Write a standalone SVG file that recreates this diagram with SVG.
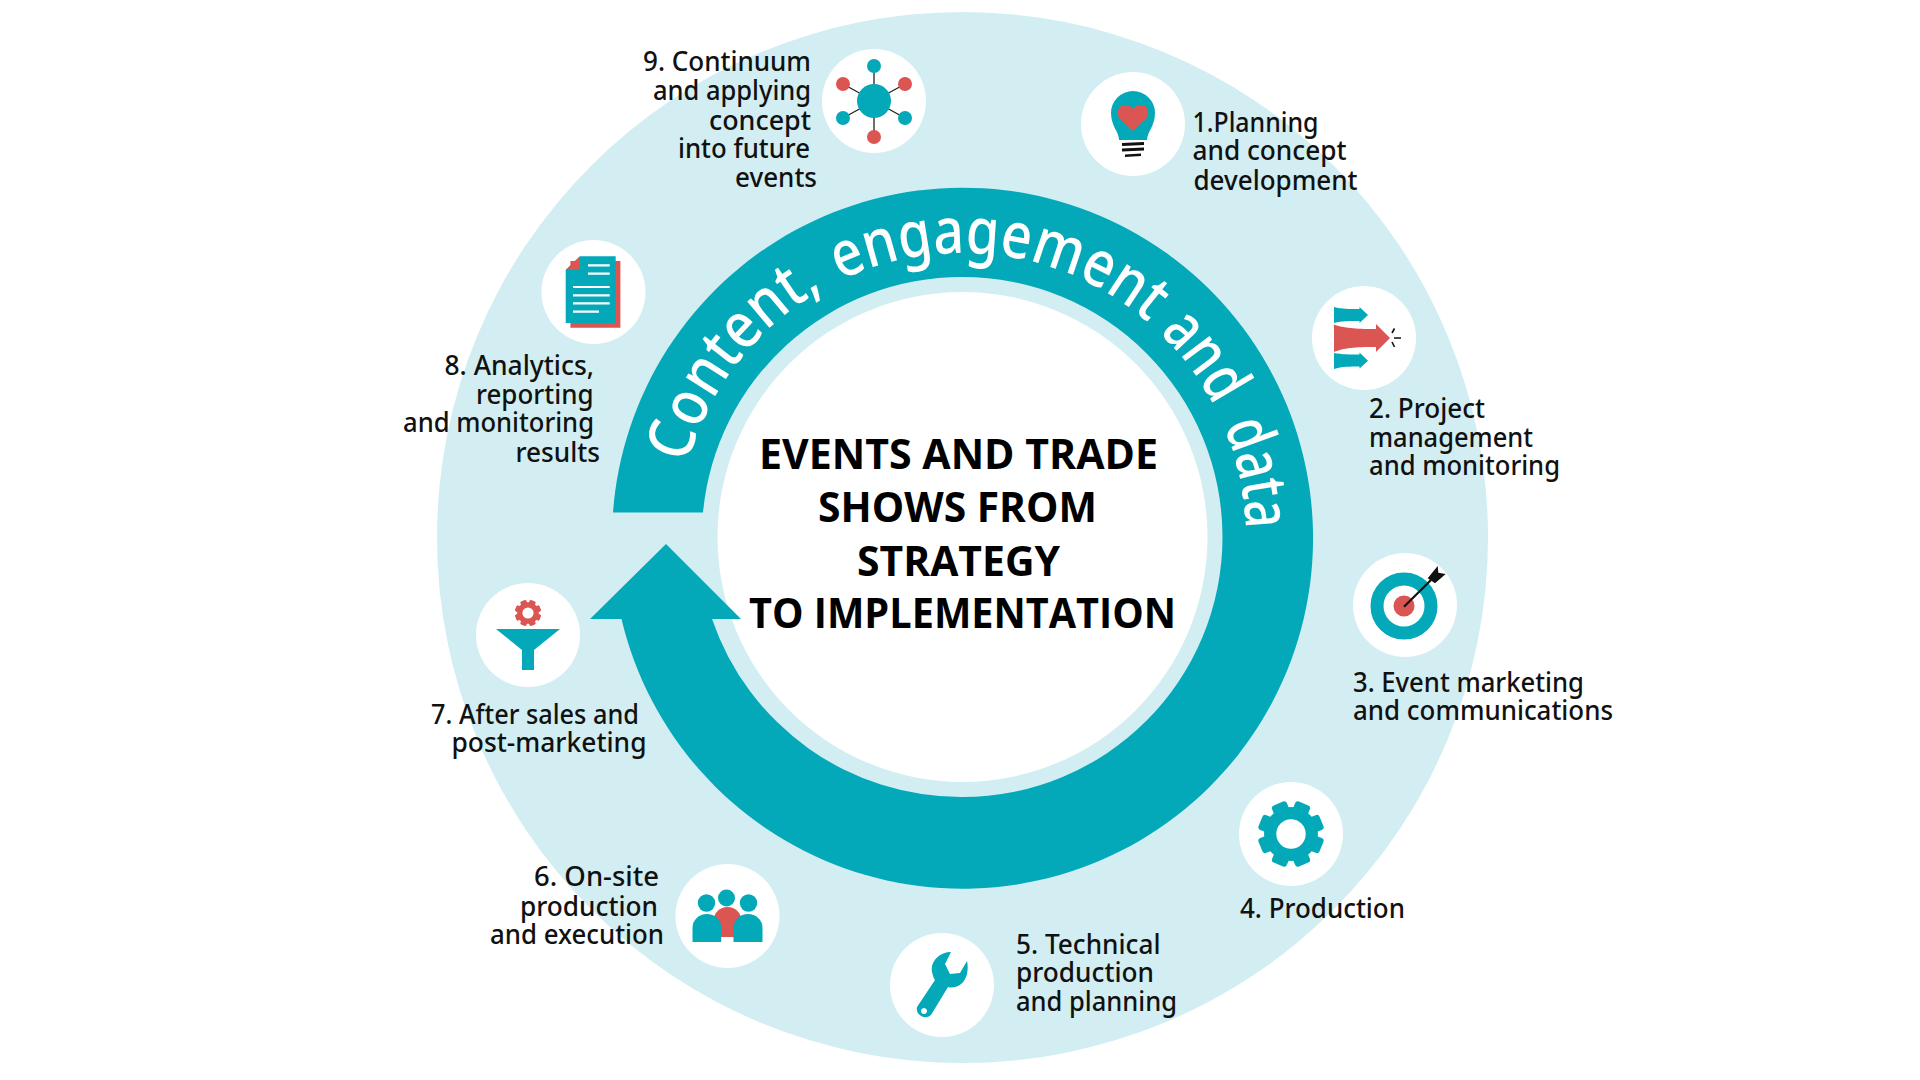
<svg xmlns="http://www.w3.org/2000/svg" xmlns:xlink="http://www.w3.org/1999/xlink" width="1920" height="1080" viewBox="0 0 1920 1080">
<style>
.t{fill:#03a9b8}.r{fill:#db5552}.k{fill:#111}.w{fill:#fff}
.lbl{font-family:"Noto Sans","Liberation Sans",sans-serif;font-weight:500;font-size:27px;fill:#111}
.ttl{font-family:"Open Sans","Noto Sans",sans-serif;font-weight:700;font-size:41px;fill:#000}
.arc{font-family:"Noto Sans","Liberation Sans",sans-serif;font-weight:500;font-size:64px;fill:#fff}
.ln{stroke:#222;stroke-width:1.3;fill:none}
.wl{stroke:#fff;stroke-width:2.2;fill:none}
</style>
<defs>
<path id="arcPath" d="M678,537 A284,284 0 1 1 1246,537"/>
<g id="tooth"><rect x="-8" y="-33" width="16" height="11" rx="3"/></g>
</defs>
<rect width="1920" height="1080" fill="#fff"/>
<circle id="band" cx="962.5" cy="537.5" r="525.5" fill="#d2eef2"/>
<circle id="centre-disc" cx="962.5" cy="537" r="245" fill="#fff"/>
<g id="connectors">
<path class="t" d="M613,512.500 A350.500,350.500 0 1 1 621.500,619 L590,619 L666,544 L741,619 L712,619 A263,263 0 0 0 962.500,797 A260,260 0 0 0 1222.500,537 A260,260 0 0 0 962.500,277 A260,260 0 0 0 703,512.500 Z"/>
</g>
<text class="arc"><textPath href="#arcPath" startOffset="74" textLength="227" lengthAdjust="spacingAndGlyphs">Content,</textPath><textPath href="#arcPath" startOffset="320" textLength="329" lengthAdjust="spacingAndGlyphs">engagement</textPath><textPath href="#arcPath" startOffset="664" textLength="92" lengthAdjust="spacingAndGlyphs">and</textPath><textPath href="#arcPath" startOffset="778" textLength="106" lengthAdjust="spacingAndGlyphs">data</textPath></text>
<g id="title" class="ttl">
<text x="759" y="469" textLength="399" lengthAdjust="spacingAndGlyphs">EVENTS AND TRADE</text>
<text x="818" y="522" textLength="279" lengthAdjust="spacingAndGlyphs">SHOWS FROM</text>
<text x="857" y="576" textLength="203" lengthAdjust="spacingAndGlyphs">STRATEGY</text>
<text x="749" y="628" textLength="427" lengthAdjust="spacingAndGlyphs">TO IMPLEMENTATION</text>
</g>
<g id="node-1">
<circle class="w" cx="1133" cy="124" r="52"/>
<g transform="translate(1133,124)">
<path class="t" d="M-14,16 C-14,8 -22,2 -22,-11 A22,22 0 0 1 22,-11 C22,2 14,8 14,16 Z"/>
<path class="r" d="M0,7 L-12,-4 C-18,-10 -15,-19 -8,-19 C-4,-19 -1,-17 0,-15 C1,-17 4,-19 8,-19 C15,-19 18,-10 12,-4 Z"/>
<path class="k" d="M-11,19 L11,18 V21 L-11,22 Z M-11,24.500 L11,23.500 V26.500 L-11,27.500 Z M-8,30.500 L8,29.500 V32 L-8,33 Z"/>
</g>
<g class="lbl"><text x="1192.500" y="132" textLength="126" lengthAdjust="spacingAndGlyphs">1.Planning</text><text x="1192.500" y="160.400" textLength="154" lengthAdjust="spacingAndGlyphs">and concept</text><text x="1193.500" y="189.500" textLength="164" lengthAdjust="spacingAndGlyphs">development</text></g>
</g>
<g id="node-2">
<circle class="w" cx="1364" cy="338" r="52"/>
<g transform="translate(1364,338)">
<path class="r" d="M-30,-13.500 C-20,-10 -10,-9 12,-9 L12,-14 L26,0 L12,14 L12,9 C-10,9 -20,10 -30,14 Z"/>
<path class="t" d="M-30,-31 C-22,-29 -15,-29 -4.500,-29 V-31 L4,-23 L-4.500,-15 V-17 C-15,-17 -22,-17 -30,-15 Z"/>
<path class="t" d="M-30,15 C-22,16.500 -15,16.500 -4.500,16.500 V14.500 L4,22.700 L-4.500,30.500 V28.500 C-15,28.500 -22,28.500 -30,31 Z"/>
<path stroke="#111" stroke-width="1.600" fill="none" d="M30.500,-9.500 L28,-5 M28,4 L30.500,9 M30,0 H37"/>
</g>
<g class="lbl"><text x="1369" y="417.600" textLength="116" lengthAdjust="spacingAndGlyphs">2. Project</text><text x="1369" y="447" textLength="164" lengthAdjust="spacingAndGlyphs">management</text><text x="1369" y="475" textLength="191" lengthAdjust="spacingAndGlyphs">and monitoring</text></g>
</g>
<g id="node-3">
<circle class="w" cx="1405" cy="605" r="52"/>
<g transform="translate(1405,605)">
<circle cx="-1" cy="1" r="27" fill="none" stroke="#03a9b8" stroke-width="13"/>
<circle class="r" cx="-1" cy="1" r="10.500"/>
<path stroke="#111" stroke-width="2.200" d="M-1,1.700 L26,-25"/>
<path class="k" d="M22.700,-26.700 L32.700,-39 L33.300,-32.300 L40.700,-31 L30,-21.700 Z"/>
</g>
<g class="lbl"><text x="1353" y="692" textLength="231" lengthAdjust="spacingAndGlyphs">3. Event marketing</text><text x="1353" y="720" textLength="260" lengthAdjust="spacingAndGlyphs">and communications</text></g>
</g>
<g id="node-4">
<circle class="w" cx="1291" cy="834" r="52"/>
<g transform="translate(1291,834)">
<circle class="t" r="27"/>
<g class="t"><use href="#tooth" transform="rotate(22.500)"/><use href="#tooth" transform="rotate(67.500)"/><use href="#tooth" transform="rotate(112.500)"/><use href="#tooth" transform="rotate(157.500)"/><use href="#tooth" transform="rotate(202.500)"/><use href="#tooth" transform="rotate(247.500)"/><use href="#tooth" transform="rotate(292.500)"/><use href="#tooth" transform="rotate(337.500)"/></g>
<circle class="w" r="14.700"/>
</g>
<g class="lbl"><text x="1240" y="918" textLength="165" lengthAdjust="spacingAndGlyphs">4. Production</text></g>
</g>
<g id="node-5">
<circle class="w" cx="942" cy="985" r="52"/>
<g transform="translate(942,985)">
<path class="t" fill-rule="evenodd" d="M9,-33 C-3,-33 -12,-23 -10,-13 C-9,-9 -8,-6 -7,-5 L-25,22 A8.500,8.500 0 0 0 -11,30 L6,2 C13,4 21,0 24,-8 C26,-13 26,-20 25,-24 L18,-12 L8,-11 L3,-21 Z M-18,23 a3,3 0 1 0 0.010,0 Z"/>
</g>
<g class="lbl"><text x="1016" y="954" textLength="144.500" lengthAdjust="spacingAndGlyphs">5. Technical</text><text x="1016" y="982" textLength="138" lengthAdjust="spacingAndGlyphs">production</text><text x="1016" y="1011" textLength="161" lengthAdjust="spacingAndGlyphs">and planning</text></g>
</g>
<g id="node-6">
<circle class="w" cx="727.500" cy="916" r="52"/>
<g transform="translate(727.500,916)">
<circle class="t" cx="-1" cy="-18" r="8.500"/><circle class="t" cx="-21" cy="-13" r="8.700"/><circle class="t" cx="21" cy="-13" r="8.700"/>
<path class="r" d="M-14,21 V5 A14,14 0 0 1 14,5 V21 Z"/>
<path class="t" d="M-35,26 V12 A14.350,14 0 0 1 -6.300,12 V26 Z"/>
<path class="t" d="M6,26 V12 A14.500,14 0 0 1 35,12 V26 Z"/>
</g>
<g class="lbl"><text x="534" y="886" textLength="125" lengthAdjust="spacingAndGlyphs">6. On-site</text><text x="520" y="916" textLength="138" lengthAdjust="spacingAndGlyphs">production</text><text x="490" y="944" textLength="174" lengthAdjust="spacingAndGlyphs">and execution</text></g>
</g>
<g id="node-7">
<circle class="w" cx="528" cy="635" r="52"/>
<g transform="translate(528,635)">
<g transform="translate(0,-22) scale(0.4)" class="r"><circle r="27"/><use href="#tooth" transform="rotate(22.500)"/><use href="#tooth" transform="rotate(67.500)"/><use href="#tooth" transform="rotate(112.500)"/><use href="#tooth" transform="rotate(157.500)"/><use href="#tooth" transform="rotate(202.500)"/><use href="#tooth" transform="rotate(247.500)"/><use href="#tooth" transform="rotate(292.500)"/><use href="#tooth" transform="rotate(337.500)"/><circle class="w" r="14"/></g>
<path class="t" d="M-32,-6 H32 L6,15 V35 H-6 V15 Z"/>
</g>
<g class="lbl"><text x="431" y="724" textLength="208" lengthAdjust="spacingAndGlyphs">7. After sales and</text><text x="451.500" y="752" textLength="195" lengthAdjust="spacingAndGlyphs">post-marketing</text></g>
</g>
<g id="node-8">
<circle class="w" cx="593.500" cy="292" r="52"/>
<g transform="translate(593,292)">
<path class="r" d="M-22.600,-31 H27.400 V35.700 H-22.600 Z"/>
<path class="t" d="M-13,-35.700 H22.700 V31 H-27.300 V-22 Z"/>
<path class="r" d="M-13,-35.700 V-22 H-27.300 Z"/>
<path class="wl" d="M-5,-26.700 H16.700 M-5,-18.300 H16.700 M-20,-5 H16.700 M-20,3.300 H16.700 M-20,11.300 H16.700 M-20,19.700 H6"/>
</g>
<g class="lbl"><text x="444.500" y="375" textLength="149.500" lengthAdjust="spacingAndGlyphs">8. Analytics,</text><text x="476" y="404" textLength="117.500" lengthAdjust="spacingAndGlyphs">reporting</text><text x="403" y="432" textLength="191" lengthAdjust="spacingAndGlyphs">and monitoring</text><text x="515.500" y="461.600" textLength="84.500" lengthAdjust="spacingAndGlyphs">results</text></g>
</g>
<g id="node-9">
<circle class="w" cx="874" cy="101" r="52"/>
<g transform="translate(874,101)">
<path class="ln" d="M0,-35 V36 M-31,-17 L31,17 M31,-17 L-31,17"/>
<circle class="t" r="17"/>
<circle class="t" cx="0" cy="-35" r="7"/><circle class="r" cx="-31" cy="-17" r="7"/><circle class="r" cx="31" cy="-17" r="7"/><circle class="t" cx="-31" cy="17" r="7"/><circle class="t" cx="31" cy="17" r="7"/><circle class="r" cx="0" cy="36" r="7"/>
</g>
<g class="lbl"><text x="643" y="71" textLength="168" lengthAdjust="spacingAndGlyphs">9. Continuum</text><text x="653" y="100.400" textLength="158" lengthAdjust="spacingAndGlyphs">and applying</text><text x="709" y="129.800" textLength="102" lengthAdjust="spacingAndGlyphs">concept</text><text x="678" y="158" textLength="132" lengthAdjust="spacingAndGlyphs">into future</text><text x="735" y="187.300" textLength="82" lengthAdjust="spacingAndGlyphs">events</text></g>
</g>
</svg>
